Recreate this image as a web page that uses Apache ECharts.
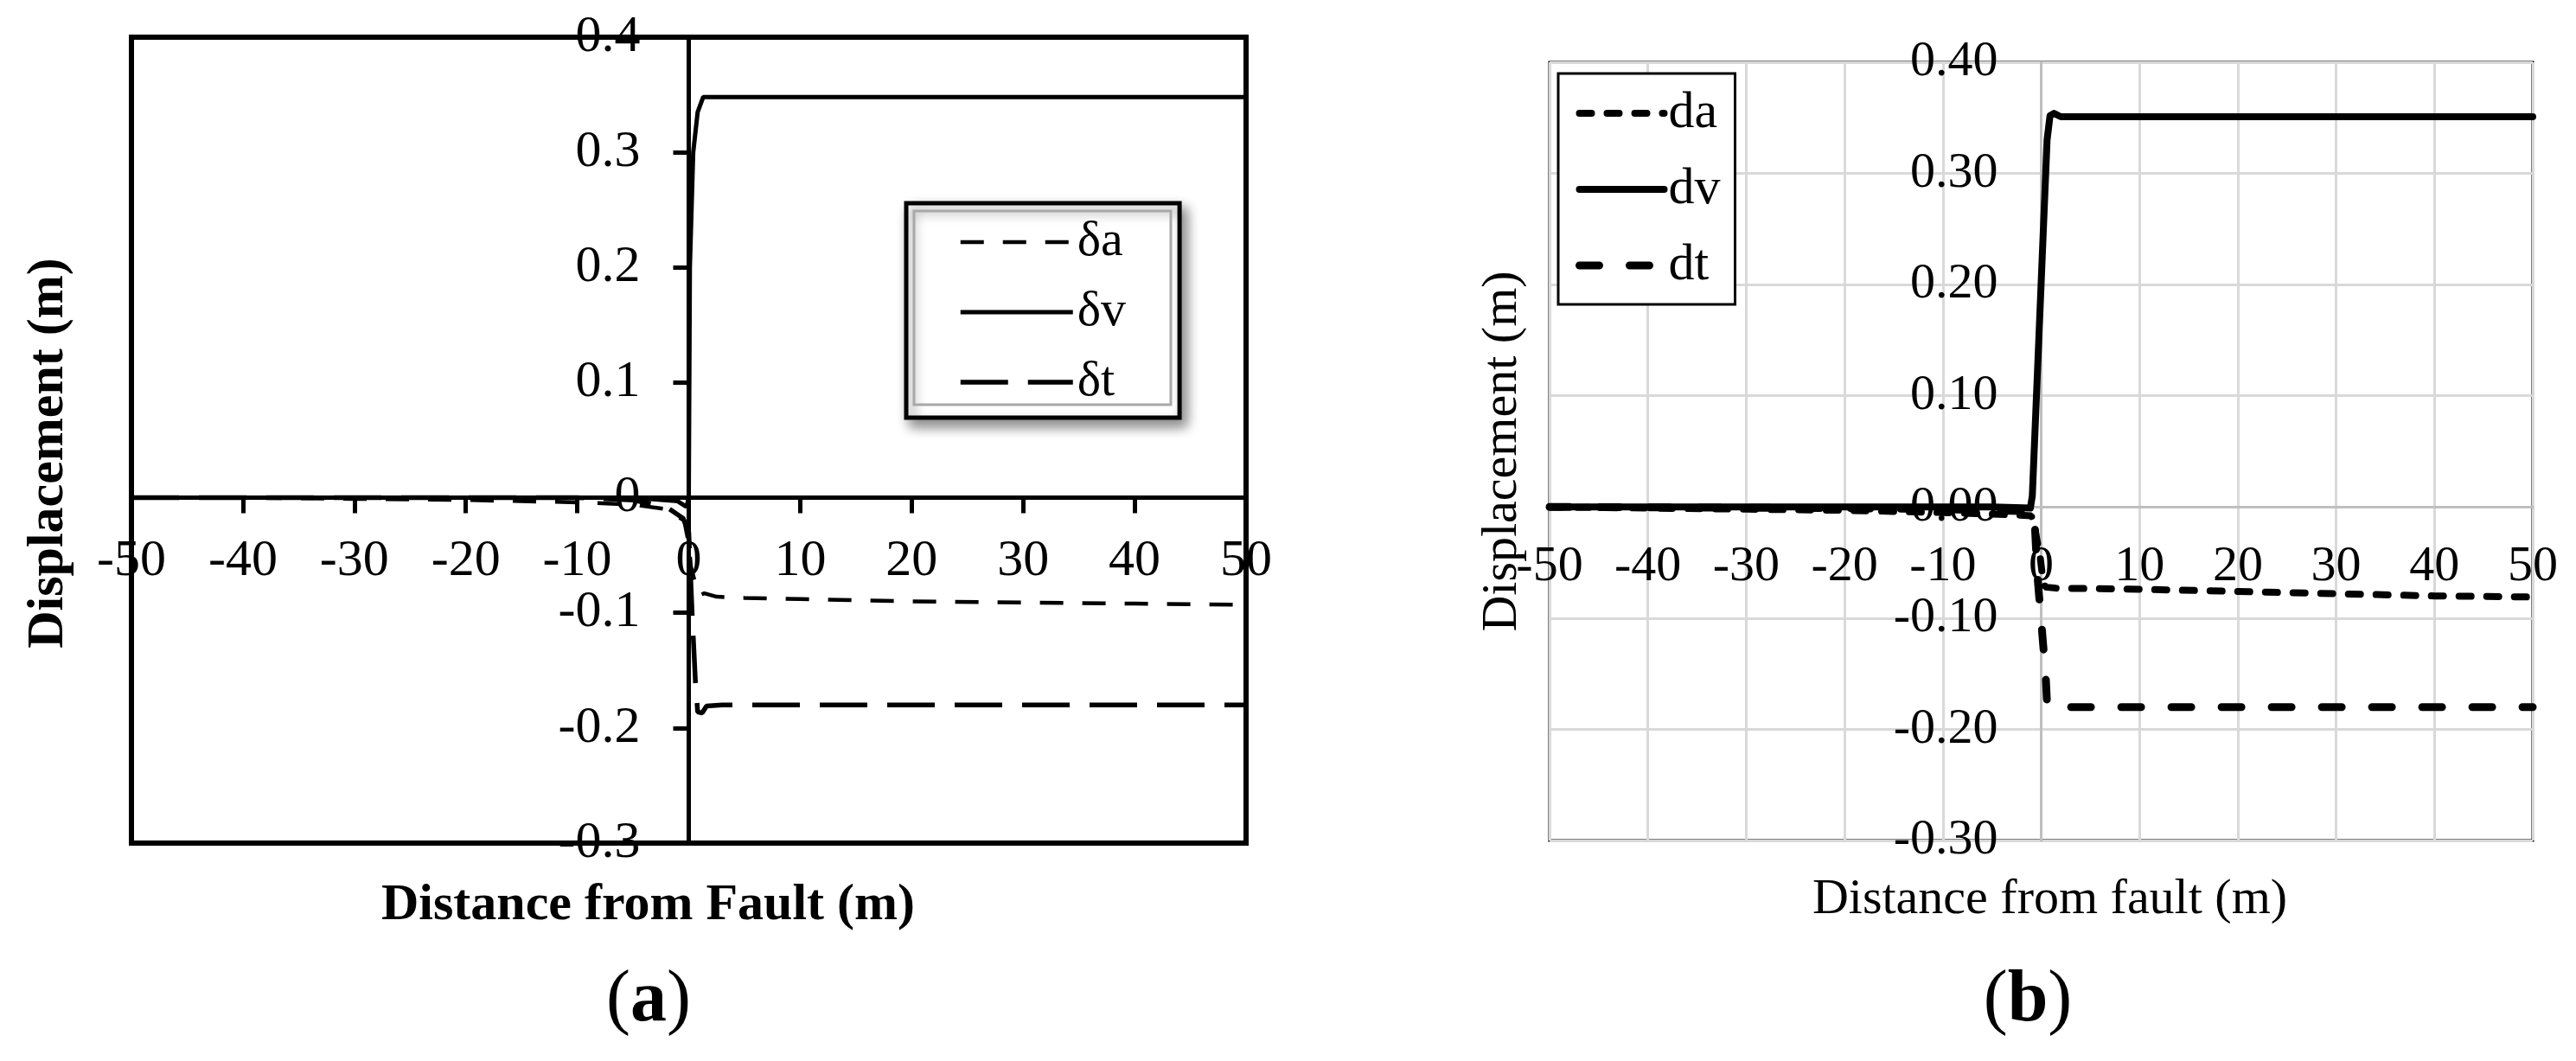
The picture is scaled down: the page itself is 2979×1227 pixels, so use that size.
<!DOCTYPE html>
<html><head><meta charset="utf-8">
<script src="https://cdn.jsdelivr.net/npm/echarts@6/dist/echarts.min.js"></script>
<style>html,body{margin:0;padding:0;background:#fff}#c{width:2979px;height:1227px}</style>
</head><body><div id="c"></div>
<script>
// ---------- Panel (a) data ----------
const aDaX = [-50, -40, -30, -20, -10, -5, -2, -0.4, 0, 0.2, 0.6, 1.0, 1.4, 2.5, 5, 10, 20, 30, 40, 50];
const aDaY = [0, 0, -0.001, -0.002, -0.004, -0.006, -0.010, -0.020, -0.040, -0.060, -0.075, -0.085, -0.083, -0.086, -0.087, -0.088, -0.090, -0.091, -0.092, -0.093];
const aDvX = [-50, -20, -5, -1, -0.2, 0, 0.1, 0.4, 0.8, 1.3, 2, 10, 30, 50];
const aDvY = [0, 0, 0, -0.003, -0.008, 0, 0.20, 0.30, 0.335, 0.348, 0.348, 0.348, 0.348, 0.348];
const aDtX = [-50, -20, -10, -5, -2, -0.5, 0, 0.3, 0.6, 0.8, 1.2, 1.6, 3, 10, 30, 50];
const aDtY = [0, 0, 0, -0.002, -0.008, -0.018, -0.030, -0.100, -0.160, -0.186, -0.187, -0.181, -0.180, -0.180, -0.180, -0.180];
// ---------- Panel (b) data ----------
const bDaX = [-50, -40, -30, -20, -10, -3, -1, -0.7, -0.1, 0.1, 0.4, 1.5, 10, 20, 30, 40, 50];
const bDaY = [0, -0.001, -0.002, -0.003, -0.005, -0.007, -0.008, -0.017, -0.045, -0.060, -0.072, -0.073, -0.074, -0.076, -0.078, -0.080, -0.081];
const bDvX = [-50, -20, -5, -1.1, -0.9, 0.6, 0.9, 1.3, 2, 10, 30, 50];
const bDvY = [0, 0, 0, -0.001, 0.010, 0.330, 0.352, 0.354, 0.351, 0.351, 0.351, 0.351];
const bDtX = [-50, -20, -10, -1, -0.7, -0.4, 0.45, 0.6, 1.0, 2, 10, 30, 50];
const bDtY = [0, -0.001, -0.002, -0.004, -0.006, -0.060, -0.150, -0.177, -0.181, -0.180, -0.180, -0.180, -0.180];

const seriesNamesA = ['δa', 'δv', 'δt'];
const seriesNamesB = ['da', 'dv', 'dt'];
const panelLabels = ['a', 'b'];

function pairs(xs, ys) { return xs.map((x, i) => [x, ys[i]]); }

const FONT = "'Liberation Serif', 'Times New Roman', serif";
const chart = echarts.init(document.getElementById('c'), null, {renderer: 'canvas'});

// grid geometry (pixels)
const GA = {left: 152, top: 43, width: 1289, height: 932};
const GB = {left: 1792, top: 72, width: 1137, height: 900};
// offsets that bring the axes to the zero lines
const aXOff = -(GA.height * 3 / 7);   // y=0 at 4/7 from top
const aYOff = -(GA.width / 2);        // x=0 at the middle
const bXOff = -(GB.height * 3 / 7);
const bYOff = -(GB.width / 2);

function line(name, xi, xs, ys, ls) {
  return {name, type: 'line', xAxisIndex: xi, yAxisIndex: xi, data: pairs(xs, ys),
    symbol: 'none', showSymbol: false, z: 5, itemStyle: {color: '#000'},
    lineStyle: Object.assign({color: '#000'}, ls)};
}

const option = {
  backgroundColor: '#ffffff',
  animation: false,
  textStyle: {fontFamily: FONT, color: '#000'},
  grid: [
    Object.assign({show: true, borderColor: '#000', borderWidth: 6, backgroundColor: 'transparent', containLabel: false, outerBoundsMode: 'none'}, GA),
    Object.assign({show: true, borderColor: '#000', borderWidth: 3, backgroundColor: 'transparent', containLabel: false, outerBoundsMode: 'none'}, GB)
  ],
  xAxis: [
    {
      type: 'value', gridIndex: 0, min: -50, max: 50, interval: 10, position: 'bottom', offset: aXOff,
      name: 'Distance from Fault (m)', nameLocation: 'middle', nameGap: 442,
      nameTextStyle: {fontFamily: FONT, fontWeight: 'bold', fontSize: 60, color: '#000', padding: [0, 94, 0, 0]},
      axisLine: {onZero: false, lineStyle: {color: '#000', width: 5}},
      axisTick: {show: true, length: 18, lineStyle: {color: '#000', width: 5}},
      axisLabel: {fontFamily: FONT, fontSize: 60, color: '#000', margin: 44},
      splitLine: {show: false}
    },
    {
      type: 'value', gridIndex: 1, min: -50, max: 50, interval: 10, position: 'bottom', offset: bXOff,
      name: 'Distance from fault (m)', nameLocation: 'middle', nameGap: 425,
      nameTextStyle: {fontFamily: FONT, fontSize: 58, color: '#000', padding: [0, 0, 0, 20]},
      axisLine: {onZero: false, lineStyle: {color: '#bfbfbf', width: 3}},
      axisTick: {show: false},
      axisLabel: {fontFamily: FONT, fontSize: 58, color: '#000', margin: 40},
      splitLine: {show: true, lineStyle: {color: '#d9d9d9', width: 3}}
    }
  ],
  yAxis: [
    {
      type: 'value', gridIndex: 0, min: -0.3, max: 0.4, interval: 0.1, position: 'left', offset: aYOff,
      name: 'Displacement (m)', nameLocation: 'middle', nameGap: 710,
      nameTextStyle: {fontFamily: FONT, fontWeight: 'bold', fontSize: 60, color: '#000', padding: [0, 30, 0, 0]},
      axisLine: {onZero: false, lineStyle: {color: '#000', width: 5}},
      axisTick: {show: true, length: 18, lineStyle: {color: '#000', width: 5}},
      axisLabel: {fontFamily: FONT, fontSize: 60, color: '#000', margin: 56,
        formatter: v => (Math.abs(v) < 1e-9 ? '0' : (Math.round(v * 10) / 10).toString())},
      splitLine: {show: false}
    },
    {
      type: 'value', gridIndex: 1, min: -0.3, max: 0.4, interval: 0.1, position: 'left', offset: bYOff,
      name: 'Displacement (m)', nameLocation: 'middle', nameGap: 594,
      nameTextStyle: {fontFamily: FONT, fontSize: 58, color: '#000'},
      axisLine: {onZero: false, lineStyle: {color: '#bfbfbf', width: 3}},
      axisTick: {show: false},
      axisLabel: {fontFamily: FONT, fontSize: 58, color: '#000', margin: 50,
        formatter: v => (Math.abs(v) < 1e-9 ? 0 : v).toFixed(2)},
      splitLine: {show: true, lineStyle: {color: '#d9d9d9', width: 3}}
    }
  ],
  legend: [
    {
      data: seriesNamesA, orient: 'vertical', left: 1048, top: 235,
      itemWidth: 130, itemHeight: 14, itemGap: 23,
      padding: [16, 62, 12, 60],
      backgroundColor: '#fff', borderColor: '#000', borderWidth: 5,
      shadowBlur: 14, shadowColor: 'rgba(0,0,0,0.45)', shadowOffsetX: 6, shadowOffsetY: 8,
      lineStyle: {width: 'inherit'},
      itemStyle: {opacity: 0, borderWidth: 0},
      textStyle: {fontFamily: FONT, fontSize: 58, lineHeight: 56, color: '#000'},
      selectedMode: false
    },
    {
      data: seriesNamesB, orient: 'vertical', left: 1802, top: 85,
      itemWidth: 98, itemHeight: 14, itemGap: 28,
      padding: [16, 17, 15, 20],
      backgroundColor: '#fff', borderColor: '#000', borderWidth: 3,
      lineStyle: {width: 'inherit'},
      itemStyle: {opacity: 0, borderWidth: 0},
      textStyle: {fontFamily: FONT, fontSize: 60, lineHeight: 60, color: '#000'},
      selectedMode: false
    }
  ],
  graphic: [
    {type: 'rect', z: 100, shape: {x: 1057, y: 244, width: 297, height: 224},
      style: {fill: 'transparent', stroke: '#a8a8a8', lineWidth: 3}},
    {type: 'text', x: 750, y: 1158, style: {text: '{p|(}{b|' + panelLabels[0] + '}{p|)}', align: 'center', verticalAlign: 'middle',
      rich: {p: {fontFamily: FONT, fontSize: 84, fill: '#000'}, b: {fontFamily: FONT, fontSize: 84, fontWeight: 'bold', fill: '#000'}}}},
    {type: 'text', x: 2345, y: 1158, style: {text: '{p|(}{b|' + panelLabels[1] + '}{p|)}', align: 'center', verticalAlign: 'middle',
      rich: {p: {fontFamily: FONT, fontSize: 84, fill: '#000'}, b: {fontFamily: FONT, fontSize: 84, fontWeight: 'bold', fill: '#000'}}}}
  ],
  series: [
    line(seriesNamesA[0], 0, aDaX, aDaY, {width: 4.5, type: [27, 22]}),
    line(seriesNamesA[1], 0, aDvX, aDvY, {width: 5, type: 'solid'}),
    line(seriesNamesA[2], 0, aDtX, aDtY, {width: 5.5, type: [55, 23]}),
    line(seriesNamesB[0], 1, bDaX, bDaY, {width: 8, type: [14, 18], cap: 'round'}),
    line(seriesNamesB[1], 1, bDvX, bDvY, {width: 8, type: 'solid', cap: 'round', join: 'round'}),
    line(seriesNamesB[2], 1, bDtX, bDtY, {width: 9, type: [23, 35], cap: 'round'})
  ]
};
chart.setOption(option);
</script>
</body></html>
